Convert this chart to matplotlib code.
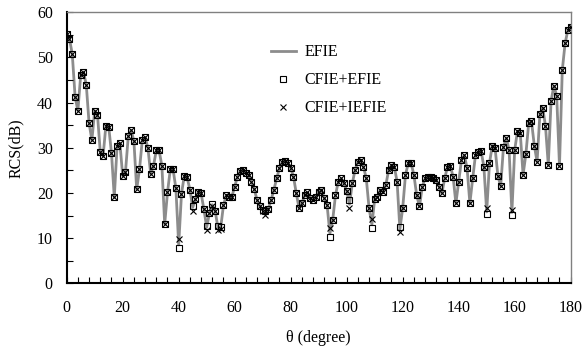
import numpy as np
import matplotlib
matplotlib.use('Agg')
import matplotlib.pyplot as plt
from matplotlib.ticker import MultipleLocator

# angle in degrees, one sample per degree
theta = np.arange(0, 181)

# EFIE reference curve
efie = [55.1, 54.1, 50.7, 41.3, 38.2, 46.1, 46.8, 43.9, 35.4, 31.7,
        38.2, 37.3, 29.0, 28.2, 34.9, 34.7, 28.8, 19.0, 30.4, 31.0,
        23.8, 24.7, 32.6, 33.9, 31.5, 20.8, 25.2, 31.7, 32.3, 30.0,
        24.2, 26.0, 29.4, 29.4, 26.0, 13.1, 20.1, 25.2, 25.2, 21.0,
        8.5, 19.8, 23.8, 23.5, 20.7, 16.8, 18.6, 20.3, 19.9, 16.4,
        12.4, 15.6, 17.4, 16.1, 12.4, 12.3, 17.3, 19.5, 19.2, 19.2,
        21.4, 23.6, 24.9, 25.1, 24.5, 24.0, 22.5, 20.8, 18.4, 17.0,
        16.2, 15.7, 16.5, 18.4, 20.7, 23.2, 25.5, 26.9, 27.1, 26.6,
        25.5, 23.6, 19.9, 16.6, 17.7, 19.5, 20.1, 18.8, 18.4, 19.2,
        20.3, 20.7, 18.8, 17.3, 11.0, 14.0, 19.5, 22.5, 23.2, 22.1,
        20.5, 17.5, 22.1, 25.1, 26.9, 27.3, 25.8, 23.2, 16.6, 13.0,
        18.6, 19.2, 20.7, 20.3, 21.8, 25.1, 26.2, 25.8, 22.5, 12.0,
        16.6, 24.0, 26.6, 26.6, 24.0, 19.5, 17.0, 21.4, 23.2, 23.6,
        23.6, 23.4, 22.9, 21.4, 19.9, 23.2, 25.8, 26.0, 23.6, 17.7,
        22.5, 27.3, 28.4, 25.5, 17.7, 23.2, 28.4, 29.1, 29.3, 25.8,
        15.8, 26.6, 30.5, 29.9, 23.8, 21.5, 30.2, 32.2, 29.5, 15.7,
        29.5, 33.7, 33.2, 24.0, 28.6, 35.4, 35.9, 30.5, 26.9, 37.4,
        38.9, 34.8, 26.2, 40.4, 43.7, 41.5, 26.0, 47.2, 53.1, 56.1,
        56.8]

# CFIE+EFIE (squares)
cfie_efie = [55.1, 54.1, 50.7, 41.3, 38.2, 46.1, 46.8, 43.9, 35.4, 31.7,
             38.2, 37.3, 29.0, 28.2, 34.9, 34.7, 28.8, 19.0, 30.4, 31.0,
             23.8, 24.7, 32.6, 33.9, 31.5, 20.8, 25.2, 31.7, 32.3, 30.0,
             24.2, 26.0, 29.4, 29.4, 26.0, 13.1, 20.1, 25.2, 25.2, 21.0,
             7.7, 19.8, 23.8, 23.5, 20.7, 17.0, 18.6, 20.3, 19.9, 16.4,
             12.7, 15.6, 17.6, 16.1, 12.6, 12.5, 17.3, 19.5, 19.2, 19.2,
             21.4, 23.6, 24.9, 25.1, 24.5, 24.0, 22.5, 20.8, 18.4, 17.0,
             16.2, 15.9, 16.5, 18.4, 20.7, 23.2, 25.5, 26.9, 27.1, 26.6,
             25.5, 23.6, 19.9, 16.6, 17.7, 19.5, 20.1, 18.8, 18.4, 19.2,
             20.3, 20.7, 18.8, 17.3, 10.2, 14.0, 19.5, 22.5, 23.2, 22.1,
             20.5, 18.4, 22.1, 25.1, 26.9, 27.3, 25.8, 23.2, 16.6, 12.2,
             18.6, 19.2, 20.7, 20.3, 21.8, 25.1, 26.2, 25.8, 22.5, 12.5,
             16.6, 24.0, 26.6, 26.6, 24.0, 19.5, 17.0, 21.4, 23.2, 23.6,
             23.6, 23.4, 22.9, 21.4, 19.9, 23.2, 25.8, 26.0, 23.6, 17.7,
             22.5, 27.3, 28.4, 25.5, 17.7, 23.2, 28.4, 29.1, 29.3, 25.8,
             15.3, 26.6, 30.5, 29.9, 23.8, 21.5, 30.2, 32.2, 29.5, 15.1,
             29.5, 33.7, 33.2, 24.0, 28.6, 35.4, 35.9, 30.5, 26.9, 37.4,
             38.9, 34.8, 26.2, 40.4, 43.7, 41.5, 26.0, 47.2, 53.1, 56.1,
             56.8]

# CFIE+IEFIE (crosses)
cfie_iefie = [55.1, 54.1, 50.7, 41.3, 38.2, 46.1, 46.8, 43.9, 35.4, 31.7,
              38.2, 37.3, 29.0, 28.2, 34.9, 34.7, 28.8, 19.0, 30.4, 31.0,
              23.8, 24.7, 32.6, 33.9, 31.5, 20.8, 25.2, 31.7, 32.3, 30.0,
              24.2, 26.0, 29.4, 29.4, 26.0, 13.1, 20.1, 25.2, 25.2, 21.0,
              9.7, 19.8, 23.8, 23.5, 20.7, 16.0, 18.6, 20.3, 19.9, 16.4,
              11.8, 15.6, 17.0, 16.1, 11.9, 12.0, 17.3, 19.5, 19.2, 19.2,
              21.4, 23.6, 24.9, 25.1, 24.5, 24.0, 22.5, 20.8, 18.4, 17.0,
              16.0, 15.2, 16.5, 18.4, 20.7, 23.2, 25.5, 26.9, 27.1, 26.6,
              25.5, 23.6, 19.9, 16.6, 17.7, 19.5, 20.1, 18.8, 18.4, 19.2,
              20.3, 20.7, 18.8, 17.3, 12.2, 14.0, 19.5, 22.5, 23.2, 22.1,
              20.5, 16.6, 22.1, 25.1, 26.9, 27.3, 25.8, 23.2, 16.6, 14.2,
              18.6, 19.2, 20.7, 20.3, 21.8, 25.1, 26.2, 25.8, 22.5, 11.3,
              16.6, 24.0, 26.6, 26.6, 24.0, 19.5, 17.0, 21.4, 23.2, 23.6,
              23.6, 23.4, 22.9, 21.4, 19.9, 23.2, 25.8, 26.0, 23.6, 17.7,
              22.5, 27.3, 28.4, 25.5, 17.7, 23.2, 28.4, 29.1, 29.3, 25.8,
              16.6, 26.6, 30.5, 29.9, 23.8, 21.5, 30.2, 32.2, 29.5, 16.3,
              29.5, 33.7, 33.2, 24.0, 28.6, 35.4, 35.9, 30.5, 26.9, 37.4,
              38.9, 34.8, 26.2, 40.4, 43.7, 41.5, 26.0, 47.2, 53.1, 56.1,
              56.8]

plt.rcParams['font.family'] = ['Liberation Serif', 'DejaVu Serif']
plt.rcParams['font.size'] = 11

fig = plt.figure(figsize=(5.84, 3.51), dpi=100)
ax = fig.add_axes([0.1142, 0.193, 0.863, 0.772])

ax.plot(theta, efie, color='#8c8c8c', linewidth=2.0, label='EFIE', zorder=1)
ax.plot(theta, cfie_efie, linestyle='none', marker='s', markersize=4.5,
        markerfacecolor='none', markeredgecolor='black', markeredgewidth=0.8,
        label='CFIE+EFIE', zorder=2)
ax.plot(theta, cfie_iefie, linestyle='none', marker='x', markersize=5,
        color='black', markeredgewidth=0.8, label='CFIE+IEFIE', zorder=3)

ax.set_xlim(0, 180)
ax.set_ylim(0, 60)
ax.xaxis.set_major_locator(MultipleLocator(20))
ax.xaxis.set_minor_locator(MultipleLocator(4))
ax.yaxis.set_major_locator(MultipleLocator(10))
ax.yaxis.set_minor_locator(MultipleLocator(5))
ax.tick_params(which='both', direction='in', top=False, right=False, labelsize=11.5)
ax.tick_params(which='major', length=4, width=0.8)
ax.tick_params(which='minor', length=4, width=0.8)
ax.tick_params(axis='x', pad=12)
ax.tick_params(axis='y', pad=10)

for side in ['left', 'bottom']:
    ax.spines[side].set_linewidth(1.5)
    ax.spines[side].set_color('black')
for side in ['top', 'right']:
    ax.spines[side].set_linewidth(1.0)
    ax.spines[side].set_color('#808080')

ax.set_xlabel('θ (degree)', labelpad=10, fontsize=11.5)
ax.set_ylabel('RCS(dB)', labelpad=9, fontsize=11.5)

ax.legend(loc='upper left', bbox_to_anchor=(0.376, 0.935), frameon=False,
          handlelength=1.6, handletextpad=0.5, labelspacing=0.75, fontsize=11.5)

fig.savefig('out.png', dpi=100)
